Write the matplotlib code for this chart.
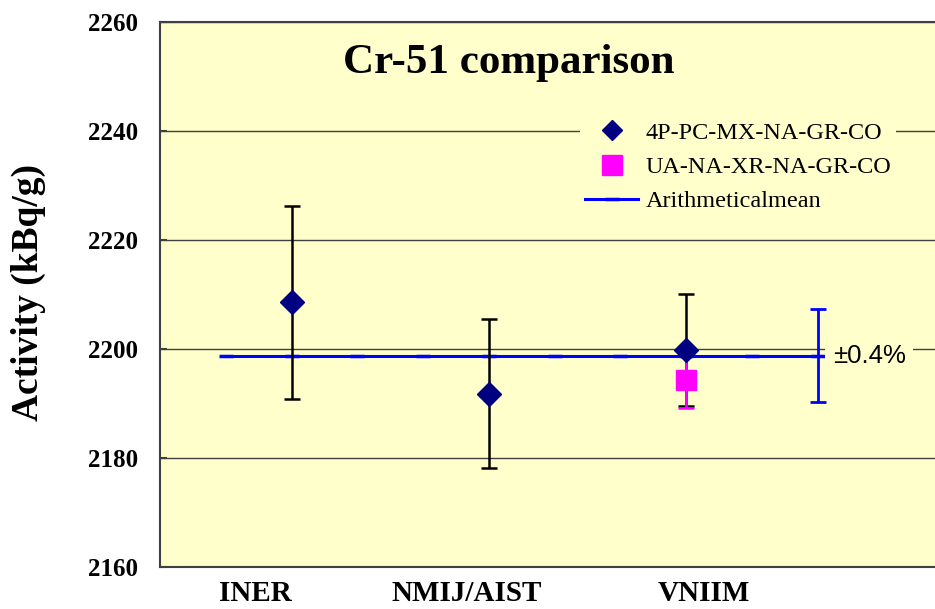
import matplotlib
matplotlib.use('Agg')
from matplotlib import pyplot as plt
from matplotlib.lines import Line2D
from matplotlib.transforms import ScaledTranslation

# lab positions on the category axis and their readings
labs = ['INER', 'NMIJ/AIST', 'VNIIM']
lab_x = [1, 2, 3]
vals = [2208.6, 2191.8, 2199.8]
errs = [17.7, 13.7, 10.2]

# second method (only VNIIM)
pink_x = [3]
pink_vals = [2194.3]
pink_errs = [5.1]

# arithmetic mean line and its +-0.4 % band
mean_val = 2198.8
mean_x = [2/3, 1, 4/3, 5/3, 2, 7/3, 8/3, 3, 10/3, 11/3]
band_x = 11/3
band_err = 8.6

yticks = [2160, 2180, 2200, 2220, 2240, 2260]

bg = '#FFFFCC'
serif = 'Liberation Serif'

fig = plt.figure(figsize=(9.35, 6.09), dpi=100)
ax = fig.add_axes([160/935, 1 - 567.2/609, 1 - 160/935, (567.2 - 21.7)/609])
ax.set_facecolor(bg)

ax.set_xlim(0.332, 4.262)
ax.set_ylim(2160, 2260)
ax.set_yticks(yticks)
ax.yaxis.grid(True, color='#404040', lw=1)
ax.set_axisbelow(True)

for s in ['left', 'top', 'bottom']:
    ax.spines[s].set_color('#404040')
    ax.spines[s].set_linewidth(1.5)
ax.spines['right'].set_visible(False)

# mean line
ax.plot(mean_x, [mean_val] * len(mean_x), color='#0000FF', lw=2.2,
        marker='_', ms=10, mew=2.5, zorder=2)

# black error bars + diamonds
ax.errorbar(lab_x, vals, yerr=errs, fmt='none', ecolor='black',
            elinewidth=1.8, capsize=5.5, capthick=1.8, zorder=3)
ax.errorbar(pink_x, pink_vals, yerr=pink_errs, fmt='none', ecolor='#FF00FF',
            elinewidth=1.8, capsize=5.5, capthick=1.8, zorder=4)
ax.plot(pink_x, pink_vals, 's', color='#FF00FF', ms=14.5, zorder=4)
ax.plot(lab_x, vals, 'D', color='#000080', ms=12.5, zorder=5)

# uncertainty band of the mean
ax.errorbar([band_x], [mean_val], yerr=[band_err], fmt='none', ecolor='#0000FF',
            elinewidth=2, capsize=5.5, capthick=2, zorder=6)
ax.annotate('\u00b10.4%', (band_x, mean_val), xytext=(11, 0), textcoords='offset points',
            ha='left', va='center', fontsize=18.5, family='Liberation Sans',
            bbox=dict(boxstyle='square,pad=0.3', fc=bg, ec='none'), zorder=4)

# ticks
ax.set_xticks(lab_x)
ax.set_xticklabels(labs, fontsize=21, family=serif, fontweight='bold')
ax.tick_params(axis='x', length=0, pad=9)
ax.tick_params(axis='y', direction='in', length=5, width=1.5, color='#404040', pad=16,
               labelsize=18)
for lbl in ax.get_yticklabels():
    lbl.set_family(serif)
    lbl.set_fontweight('bold')
# labels in the original sit a bit off their points
shifts = [-36, -22, 18]
for lbl, dx in zip(ax.get_xticklabels(), shifts):
    lbl.set_transform(lbl.get_transform() + ScaledTranslation(dx / 100, 0, fig.dpi_scale_trans))

fig.text(509/935, 1 - 73/609, 'Cr-51 comparison', ha='center', va='baseline',
         fontsize=31, family=serif, fontweight='bold')
fig.text(28/935, 1 - 292/609, 'Activity (kBq/g)', rotation=90, ha='center', va='center',
         fontsize=27, family=serif, fontweight='bold')

handles = [
    Line2D([], [], ls='none', marker='D', color='#000080', ms=10.5),
    Line2D([], [], ls='none', marker='s', color='#FF00FF', ms=15),
    Line2D([], [], color='#0000FF', lw=2.2, marker='_', ms=10, mew=2.5),
]
names = ['4P-PC-MX-NA-GR-CO', 'UA-NA-XR-NA-GR-CO', 'Arithmeticalmean']
leg = ax.legend(handles, names, loc='upper left', bbox_to_anchor=(580/935, 1 - 117/609),
                bbox_transform=fig.transFigure, prop={'family': serif, 'size': 17.5},
                handlelength=2.2, handletextpad=0.3, labelspacing=0.5,
                borderpad=0.2, borderaxespad=0, fancybox=False, framealpha=1)
leg.get_frame().set_facecolor(bg)
leg.get_frame().set_edgecolor('none')

fig.savefig('out.png', dpi=100)
